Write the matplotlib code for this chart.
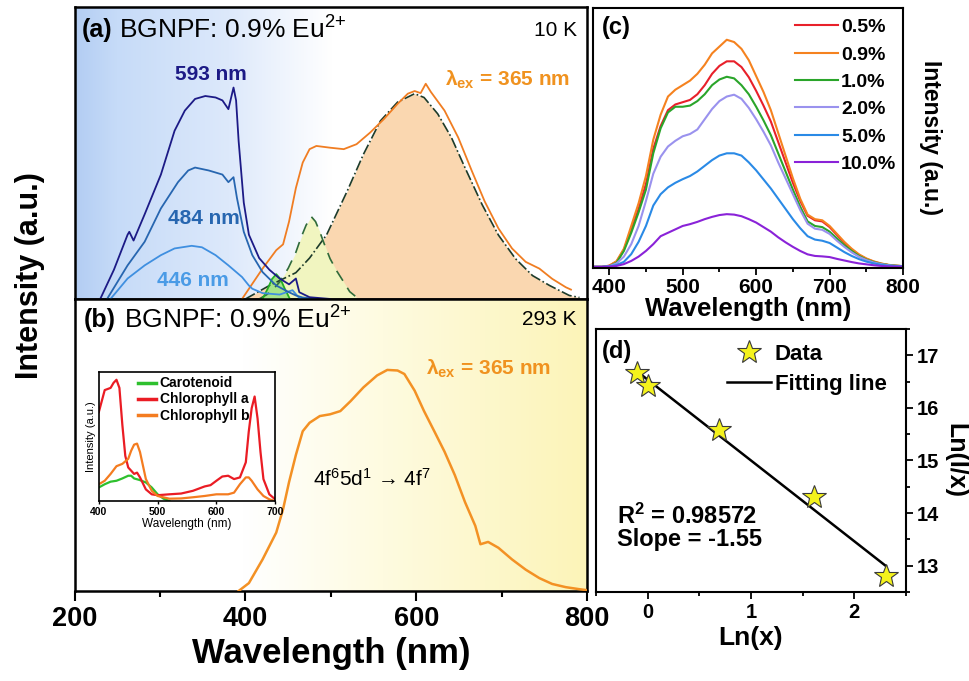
import numpy as np
import matplotlib
matplotlib.use('Agg')
import matplotlib.pyplot as plt
from matplotlib.colors import to_rgb
from matplotlib.ticker import MultipleLocator

plt.rcParams['font.family'] = ['Liberation Sans', 'DejaVu Sans']
plt.rcParams['mathtext.fontset'] = 'custom'
plt.rcParams['mathtext.rm'] = 'Liberation Sans'
plt.rcParams['mathtext.bf'] = 'Liberation Sans:bold'
plt.rcParams['mathtext.it'] = 'Liberation Sans:italic'

# ---------------- panel (a): 10 K excitation / emission ----------------
exc593_wl = [230, 246, 262, 264, 269, 282, 301, 317, 329, 341, 353, 365, 373, 380, 386, 389,
             392, 398, 404, 416, 428, 440, 451, 455, 459, 463, 475, 499]
exc593_int = [0, 10, 22, 23, 20, 29, 42.6, 57.6, 64.5, 68.5, 69.5, 69, 68, 65, 72.4, 68,
              54, 33, 22, 14, 10, 7, 5, 6, 7, 2.3, 0.6, 0]

exc484_wl = [238, 262, 282, 301, 321, 333, 341, 357, 373, 380, 386, 390, 398, 408, 420, 436,
             451, 459, 467, 483]
exc484_int = [0, 11.5, 19.6, 31, 40, 44, 45, 44, 42.6, 40, 41.7, 34.6, 23, 15, 9.2, 4.6,
              2.3, 1.2, 0.5, 0]

exc446_wl = [242, 262, 282, 301, 317, 337, 349, 365, 380, 396, 404, 408, 420, 440, 455, 463, 475]
exc446_int = [0, 7, 11.5, 15, 17.3, 18.2, 17.7, 15, 11.5, 7.5, 4.6, 3.5, 2, 1.5, 3, 0.3, 0]

em10k_wl = [396, 420, 436, 444, 451, 459, 467, 475, 483, 499, 515, 530, 546, 562, 578, 590,
            598, 605, 611, 617, 633, 649, 665, 680, 696, 712, 728, 744, 759, 775, 781]
em10k_int = [0, 10.4, 16.7, 18.7, 26.5, 38, 46.7, 51.3, 52.4, 51.8, 51.3, 53, 57, 61.6, 66.8, 70.3,
             71.2, 70.5, 73.7, 70.9, 64.5, 55.3, 43.8, 33.4, 24.2, 17.3, 12.7, 10.4, 6.9, 4, 3.2]

fit_main_wl = [400, 428, 459, 475, 495, 519, 538, 558, 578, 598, 609, 625, 641, 657, 677, 696,
               716, 736, 756, 779, 791]
fit_main_int = [0, 4.6, 9, 14, 22, 36.9, 49.5, 61, 67.4, 70.3, 69, 63.4, 55.3, 44.9, 32.3, 21.9,
                13.8, 8, 4.6, 1.2, 0.5]

fit_green_wl = [416, 425, 432, 440, 450, 459, 465, 471, 477, 482, 487, 492, 499, 507, 515, 522, 530]
fit_green_int = [0, 1.5, 3.2, 5.8, 10.5, 16, 21, 25.3, 28.2, 26.5, 23, 19, 13.8, 9.5, 5.8, 2.5, 0.6]

fit_small_wl = [420, 426, 431, 436, 441, 446, 452]
fit_small_int = [0, 3.5, 6.8, 8.5, 6.8, 3.5, 0]

# ---------------- panel (b): 293 K emission ----------------
em293_wl = [392, 404, 420, 436, 444, 451, 459, 467, 475, 487, 499, 511, 523, 538, 554, 566,
            578, 586, 598, 609, 621, 633, 645, 657, 669, 675, 684, 696, 712, 728, 744, 759,
            775, 791, 799]
em293_int = [0, 2.7, 10.8, 20, 28, 37.3, 46.6, 54.7, 57.6, 59.9, 60.5, 61.6, 65, 69.7, 73.8, 75.7,
             75.5, 74.3, 68.6, 61.6, 54.7, 47.7, 39.7, 30.4, 22.3, 16, 16.8, 14.8, 10.8, 7.3, 4.4, 2.4,
             1.3, 0.6, 0.3]

# inset: plant pigment absorption
chla_wl = [400, 410, 420, 425, 430, 435, 440, 445, 450, 460, 465, 470, 480, 490, 500, 520, 540,
           560, 580, 590, 600, 610, 620, 630, 640, 650, 655, 660, 665, 670, 675, 680, 690, 700]
chla_abs = [69, 86, 87.7, 91.6, 94, 87.7, 59, 35, 26, 21, 22, 18.3, 9, 5.2, 4.5, 5.2, 5.8,
            7.9, 11.3, 12.3, 15.7, 19, 19.6, 17, 18.3, 30, 53.7, 72, 81, 64, 38, 17, 5.2, 1.3]
chlb_wl = [400, 410, 420, 430, 440, 450, 455, 460, 465, 470, 475, 480, 490, 500, 520, 540, 560,
           580, 600, 620, 630, 640, 650, 655, 660, 670, 680, 690, 700]
chlb_abs = [13, 15.7, 21, 27, 28.8, 32.7, 39, 43.7, 44.5, 38, 27.5, 17, 7.9, 3.9, 1.8, 2, 2.9,
            3.9, 5.2, 5.2, 6.5, 13, 18.3, 18.3, 15.7, 9, 3.9, 1.3, 0]
carot_wl = [400, 410, 420, 430, 440, 450, 455, 460, 470, 480, 490, 500, 510, 520]
carot_abs = [10.5, 13, 15, 15.7, 17.5, 19.6, 19.6, 17.5, 16.2, 14.4, 10.5, 5.2, 1.8, 0]

# ---------------- panel (c): concentration series ----------------
wl_c = np.arange(380, 801, 10)
conc_labels = ['0.5%', '0.9%', '1.0%', '2.0%', '5.0%', '10.0%']
int_05 = [0, 0, 0.5, 2.3, 7.5, 16.5, 25.5, 36.5, 52, 62, 69, 71.5, 72.5, 73.5, 76, 80, 85, 88.5, 90.5, 90.5,
          88, 83.5, 77.5, 71, 64, 55, 46, 37, 29, 22.5, 20.5, 20, 17.5, 14, 10.5, 7.5, 5.2, 3.5, 2.3, 1.4,
          0.8, 0.5, 0.3]
int_09 = [0, 0, 0.5, 2.5, 8, 18, 28, 40, 56, 67, 75, 78, 80, 82, 85, 89, 94, 97, 100, 99,
          96, 91, 84, 77, 69, 59, 49, 39, 30, 23, 21, 20.5, 18, 14.5, 11, 8, 5.5, 3.7, 2.4, 1.5,
          0.9, 0.5, 0.3]
int_10 = [0, 0, 0.3, 1.8, 7, 15, 24, 34, 50, 61, 68, 70.5, 70.5, 71, 73, 76, 80, 82.5, 83.7, 83,
          80, 76, 70.5, 64.5, 58, 50, 42, 34, 26.5, 20, 18, 17.5, 15.5, 12.5, 9.5, 7, 4.8, 3.2, 2.1, 1.3,
          0.8, 0.5, 0.3]
int_20 = [0, 0, 0.3, 1.5, 4.5, 10, 18, 29, 41, 48.5, 53, 55.5, 57.5, 58.5, 60.5, 65, 69.5, 73, 75, 75.8,
          74, 70, 65, 59.5, 53.5, 46, 39, 32, 25, 19, 16.8, 16.3, 14.5, 11.5, 8.8, 6.4, 4.4, 3, 1.9, 1.2,
          0.7, 0.4, 0.2]
int_50 = [0, 0, 0.2, 0.8, 2.2, 5.6, 11, 18, 27, 32, 35, 37, 38.6, 40, 42, 44.5, 47, 49, 50, 50,
          49, 46, 42.5, 38.5, 34.5, 30, 25.5, 21, 17, 13.5, 12, 11.5, 10.5, 8.5, 6.5, 4.8, 3.4, 2.3, 1.5, 0.9,
          0.5, 0.3, 0.2]
int_100 = [0, 0, 0.1, 0.4, 1.2, 2.6, 4.5, 7, 10, 13.5, 15, 16.5, 18, 18.8, 19.8, 21, 22, 22.8, 23.2, 23,
           22.3, 21, 19.5, 17.5, 15.5, 13, 10.8, 8.8, 7, 5.5, 4.8, 4.6, 4.3, 3.5, 2.8, 2.1, 1.5, 1.1, 0.7, 0.4,
           0.2, 0.1, 0.05]
conc_colors = ['#e8202a', '#f5821f', '#2aa52a', '#9a92ee', '#2a8ae6', '#8a22d8']

# ---------------- panel (d): ln(I/x) vs ln(x) ----------------
ln_x = [-0.105, 0.0, 0.693, 1.609, 2.303]
ln_ix = [16.67, 16.42, 15.58, 14.30, 12.80]


def gradient_bg(ax, stops):
    xs = np.linspace(0, 1, 300)
    rgb = np.zeros((1, 300, 3))
    pos = [s[0] for s in stops]
    for k in range(3):
        rgb[0, :, k] = np.interp(xs, pos, [to_rgb(s[1])[k] for s in stops])
    ax.imshow(rgb, extent=[0, 1, 0, 1], transform=ax.transAxes, aspect='auto',
              interpolation='bilinear', zorder=0)


fig = plt.figure(figsize=(9.69, 6.81), dpi=100)

ax_a = fig.add_axes([0.077, 0.561, 0.529, 0.4288])
ax_b = fig.add_axes([0.077, 0.1322, 0.529, 0.4288])
ax_c = fig.add_axes([0.612, 0.6065, 0.320, 0.3818])
ax_d = fig.add_axes([0.615, 0.1307, 0.320, 0.3862])
ax_in = fig.add_axes([0.102, 0.2643, 0.182, 0.1894])

# ---- (a)
gradient_bg(ax_a, [(0, '#b3cdf3'), (0.08, '#c6dbf8'), (0.3, '#dde9fb'), (0.5, '#ffffff'), (1, '#ffffff')])
ax_a.fill_between(fit_main_wl, fit_main_int, color='#fad7b0', zorder=1, lw=0)
ax_a.fill_between(fit_green_wl, fit_green_int, color='#f1f5c0', zorder=2, lw=0)
ax_a.fill_between(fit_small_wl, fit_small_int, color='#a6e48a', zorder=3, lw=0)
ax_a.plot(fit_main_wl, fit_main_int, color='#1d3b2a', ls='-.', lw=1.2, zorder=4)
ax_a.plot(fit_green_wl, fit_green_int, color='#2f6b3a', ls=(0, (7, 5)), lw=1.2, zorder=4)
ax_a.plot(fit_small_wl, fit_small_int, color='#22b022', lw=1.3, zorder=4)
ax_a.plot(em10k_wl, em10k_int, color='#f07d22', lw=1.3, zorder=5)
ax_a.plot(exc446_wl, exc446_int, color='#3f8fe0', lw=1.3, zorder=5)
ax_a.plot(exc484_wl, exc484_int, color='#2766b0', lw=1.3, zorder=5)
ax_a.plot(exc593_wl, exc593_int, color='#1c1a86', lw=1.3, zorder=5)
ax_a.set_xlim(200, 800)
ax_a.set_ylim(0, 100)
ax_a.set_xticks([])
ax_a.set_yticks([])
ax_a.text(0.014, 0.921, '(a)', transform=ax_a.transAxes, fontsize=18, fontweight='bold', va='center')
ax_a.text(0.087, 0.921, r'BGNPF: 0.9% Eu$^{2{+}}$', transform=ax_a.transAxes, fontsize=19, va='center')
ax_a.text(0.98, 0.921, '10 K', transform=ax_a.transAxes, fontsize=15, ha='right', va='center')
ax_a.text(360, 77, '593 nm', color='#1c1a86', fontsize=15, fontweight='bold', ha='center', va='center')
ax_a.text(351, 27.6, '484 nm', color='#2766b0', fontsize=15, fontweight='bold', ha='center', va='center')
ax_a.text(339, 6.3, '446 nm', color='#4a9be6', fontsize=15, fontweight='bold', ha='center', va='center', zorder=6)
ax_a.text(633, 75, r'λ$_{\mathbf{ex}}$ = 365 nm', color='#f0921f', fontsize=15, fontweight='bold',
          ha='left', va='center')

# ---- (b)
gradient_bg(ax_b, [(0, '#ffffff'), (0.33, '#ffffff'), (0.6, '#fefbe0'), (1, '#fcf4b8')])
ax_b.plot(em293_wl, em293_int, color='#f39124', lw=1.8, zorder=3)
ax_b.set_xlim(200, 800)
ax_b.set_ylim(0, 100)
ax_b.set_yticks([])
ax_b.set_xticks([200, 400, 600, 800])
ax_b.xaxis.set_minor_locator(MultipleLocator(100))
ax_b.tick_params(axis='x', which='major', direction='out', length=7, width=1.5, labelsize=19.5)
ax_b.tick_params(axis='x', which='minor', direction='out', length=4, width=1.5)
for lbl in ax_b.get_xticklabels():
    lbl.set_fontweight('bold')
ax_b.set_xlabel('Wavelength (nm)', fontsize=25, fontweight='bold', labelpad=4)
ax_b.text(0.018, 0.928, '(b)', transform=ax_b.transAxes, fontsize=18, fontweight='bold', va='center')
ax_b.text(0.097, 0.928, r'BGNPF: 0.9% Eu$^{2{+}}$', transform=ax_b.transAxes, fontsize=19, va='center')
ax_b.text(0.98, 0.928, '293 K', transform=ax_b.transAxes, fontsize=15, ha='right', va='center')
ax_b.text(611, 76, r'λ$_{\mathbf{ex}}$ = 365 nm', color='#f0921f', fontsize=15, fontweight='bold',
          ha='left', va='center')
ax_b.text(479, 38.5, r'4f$^6$5d$^1$ → 4f$^7$', fontsize=15, ha='left', va='center')

for ax in (ax_a, ax_b):
    for sp in ax.spines.values():
        sp.set_linewidth(1.8)

fig.text(0.031, 0.596, 'Intensity (a.u.)', rotation=90, fontsize=22, fontweight='bold',
         ha='center', va='center')

# ---- inset
ax_in.set_facecolor('white')
ax_in.plot(carot_wl, carot_abs, color='#2ec02e', lw=1.6, label='Carotenoid')
ax_in.plot(chla_wl, chla_abs, color='#ea1c24', lw=1.6, label='Chlorophyll a')
ax_in.plot(chlb_wl, chlb_abs, color='#f47c20', lw=1.6, label='Chlorophyll b')
ax_in.set_xlim(400, 700)
ax_in.set_ylim(0, 100)
ax_in.set_yticks([])
ax_in.set_xticks([400, 500, 600, 700])
ax_in.tick_params(axis='x', direction='out', length=2.5, width=1, labelsize=7.5, pad=1.5)
for lbl in ax_in.get_xticklabels():
    lbl.set_fontweight('bold')
ax_in.set_xlabel('Wavelength (nm)', fontsize=8.5, labelpad=1)
ax_in.set_ylabel('Intensity (a.u.)', fontsize=8, labelpad=2)
for sp in ax_in.spines.values():
    sp.set_linewidth(1.2)
leg_in = ax_in.legend(loc='upper left', bbox_to_anchor=(0.18, 1.02), frameon=False,
                      prop={'size': 10, 'weight': 'bold'}, handlelength=1.3, handletextpad=0.3,
                      labelspacing=0.15, borderaxespad=0.1)
for ln in leg_in.get_lines():
    ln.set_linewidth(2.5)

# ---- (c)
for vals, lab, col in zip([int_05, int_09, int_10, int_20, int_50, int_100], conc_labels, conc_colors):
    ax_c.plot(wl_c, vals, color=col, lw=1.5, label=lab)
ax_c.set_xlim(378, 800)
ax_c.set_ylim(-0.5, 114)
ax_c.set_yticks([])
ax_c.set_xticks([400, 500, 600, 700, 800])
ax_c.xaxis.set_minor_locator(MultipleLocator(50))
ax_c.tick_params(axis='x', which='major', direction='out', length=5, width=1.3, labelsize=15, pad=2)
ax_c.tick_params(axis='x', which='minor', direction='out', length=3, width=1.3)
for lbl in ax_c.get_xticklabels():
    lbl.set_fontweight('bold')
ax_c.set_xlabel('Wavelength (nm)', fontsize=18.5, fontweight='bold', labelpad=0)
ax_c.yaxis.set_label_position('right')
ax_c.set_ylabel('Intensity (a.u.)', fontsize=16.5, fontweight='bold', rotation=270, labelpad=28)
ax_c.text(0.03, 0.925, '(c)', transform=ax_c.transAxes, fontsize=17, fontweight='bold', va='center')
ax_c.legend(loc='upper right', bbox_to_anchor=(1.012, 1.0), frameon=False,
            prop={'size': 14, 'weight': 'bold'}, handlelength=2.2, handletextpad=0.15,
            labelspacing=0.5, borderaxespad=0.15)
for sp in ax_c.spines.values():
    sp.set_linewidth(1.5)

# ---- (d)
slope, icpt = np.polyfit(ln_x, ln_ix, 1)
fit_x = np.array([min(ln_x), max(ln_x)])
ax_d.plot(fit_x, slope * fit_x + icpt, color='black', lw=1.8, label='Fitting line', zorder=2)
ax_d.plot(ln_x, ln_ix, ls='none', marker='*', markersize=18, markerfacecolor='#f4f21c',
          markeredgecolor='#3a3a3a', markeredgewidth=0.8, label='Data', zorder=3)
ax_d.set_xlim(-0.5, 2.5)
ax_d.set_ylim(12.5, 17.5)
ax_d.yaxis.tick_right()
ax_d.yaxis.set_label_position('right')
ax_d.set_xticks([0, 1, 2])
ax_d.xaxis.set_minor_locator(MultipleLocator(0.5))
ax_d.set_yticks([13, 14, 15, 16, 17])
ax_d.yaxis.set_minor_locator(MultipleLocator(0.5))
ax_d.tick_params(axis='both', which='major', direction='out', length=5, width=1.3, labelsize=14.5, pad=3)
ax_d.tick_params(axis='both', which='minor', direction='out', length=3, width=1.3)
for lbl in ax_d.get_xticklabels() + ax_d.get_yticklabels():
    lbl.set_fontweight('bold')
ax_d.set_xlabel('Ln(x)', fontsize=19, fontweight='bold', labelpad=3)
ax_d.set_ylabel('Ln(I/x)', fontsize=18, fontweight='bold', rotation=270, labelpad=20)
ax_d.text(0.02, 0.916, '(d)', transform=ax_d.transAxes, fontsize=17, fontweight='bold', va='center')
ax_d.text(0.068, 0.289, r'R$^{\mathbf{2}}$ = 0.98572', transform=ax_d.transAxes, fontsize=17,
          fontweight='bold', va='center')
ax_d.text(0.068, 0.198, 'Slope = -1.55', transform=ax_d.transAxes, fontsize=17,
          fontweight='bold', va='center')
handles, labels = ax_d.get_legend_handles_labels()
ax_d.legend(handles[::-1], labels[::-1], loc='upper right', bbox_to_anchor=(0.98, 0.995), frameon=False,
            prop={'size': 16, 'weight': 'bold'}, handlelength=2.0, handletextpad=0.15,
            labelspacing=0.4, borderaxespad=0.2)
for sp in ax_d.spines.values():
    sp.set_linewidth(1.5)

fig.savefig('out.png', dpi=100)
